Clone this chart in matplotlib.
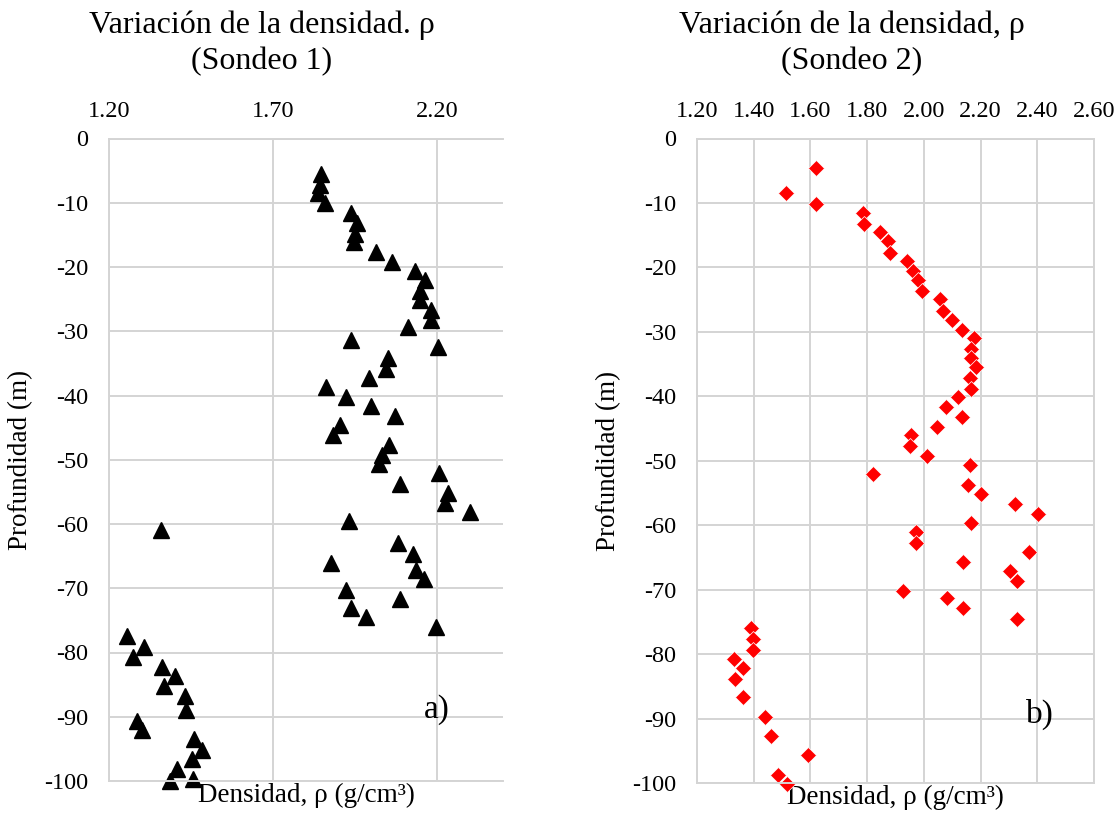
import matplotlib
matplotlib.use('Agg')
import matplotlib.pyplot as plt

plt.rcParams['font.family'] = ['Liberation Serif', 'DejaVu Serif']

# Sondeo 1
rho_1 = [1.847, 1.844, 1.837, 1.859, 1.938, 1.954, 1.948, 1.945, 2.014, 2.062,
         2.133, 2.161, 2.148, 2.148, 2.182, 2.182, 2.111, 1.936, 2.202, 2.050,
         2.045, 1.992, 1.862, 1.923, 1.999, 2.072, 1.903, 1.882, 2.053, 2.030,
         2.022, 2.205, 2.087, 2.232, 2.222, 2.298, 1.930, 1.358, 2.080, 2.126,
         1.877, 2.134, 2.158, 1.921, 2.087, 1.938, 1.984, 2.195, 1.254, 1.307,
         1.274, 1.360, 1.401, 1.367, 1.431, 1.433, 1.284, 1.302, 1.459, 1.482,
         1.452, 1.408, 1.386, 1.455]
depth_1 = [-5.6, -7.2, -8.5, -10.1, -11.6, -13.2, -14.8, -16.1, -17.6, -19.2,
           -20.7, -22.1, -23.8, -25.2, -26.7, -28.2, -29.3, -31.3, -32.5, -34.2,
           -35.9, -37.2, -38.6, -40.2, -41.6, -43.2, -44.6, -46.1, -47.7, -49.2,
           -50.7, -52.1, -53.7, -55.1, -56.7, -58.1, -59.6, -60.9, -63.0, -64.6,
           -66.1, -67.1, -68.6, -70.2, -71.6, -73.1, -74.5, -76.1, -77.5, -79.1,
           -80.7, -82.2, -83.7, -85.2, -86.8, -88.9, -90.6, -92.1, -93.5, -95.1,
           -96.6, -98.2, -100.0, -99.7]

# Sondeo 2
rho_2 = [1.619, 1.515, 1.621, 1.784, 1.788, 1.847, 1.874, 1.882, 1.939, 1.960,
         1.980, 1.995, 2.056, 2.068, 2.100, 2.133, 2.176, 2.165, 2.165, 2.183,
         2.162, 2.166, 2.121, 2.077, 2.133, 2.048, 1.954, 1.950, 2.012, 2.162,
         1.819, 2.154, 2.200, 2.321, 2.403, 2.166, 1.974, 1.974, 2.371, 2.139,
         2.303, 2.327, 1.927, 2.080, 2.139, 2.328, 1.392, 1.398, 1.398, 1.330,
         1.363, 1.333, 1.363, 1.441, 1.462, 1.592, 1.486, 1.516]
depth_2 = [-4.5, -8.5, -10.1, -11.5, -13.2, -14.5, -15.9, -17.7, -19.0, -20.5,
           -22.0, -23.6, -24.9, -26.8, -28.2, -29.7, -31.0, -32.7, -34.1, -35.5,
           -37.1, -38.8, -40.1, -41.6, -43.2, -44.7, -46.0, -47.7, -49.2, -50.7,
           -52.1, -53.7, -55.2, -56.7, -58.2, -59.7, -61.0, -62.7, -64.2, -65.7,
           -67.1, -68.7, -70.2, -71.3, -72.9, -74.6, -76.0, -77.7, -79.4, -80.7,
           -82.2, -83.8, -86.7, -89.7, -92.7, -95.7, -98.7, -100.2]

ticks_1 = [1.20, 1.70, 2.20]
ticks_2 = [1.20, 1.40, 1.60, 1.80, 2.00, 2.20, 2.40, 2.60]
depth_ticks = list(range(0, -101, -10))

grid_c = '#d4d4d4'

fig = plt.figure(figsize=(11.2, 8.17), dpi=100)
ax1 = fig.add_axes([109 / 1120, 1 - 781 / 817, 394 / 1120, 642.5 / 817])
ax2 = fig.add_axes([697 / 1120, 1 - 783 / 817, 397 / 1120, 644.5 / 817])


def style_ax(ax, xt, xmax, right_spine):
    ax.set_xlim(1.2, xmax)
    ax.set_ylim(-100, 0)
    ax.set_xticks(xt)
    ax.set_xticklabels(['%.2f' % v for v in xt])
    ax.set_yticks(depth_ticks)
    ax.set_yticklabels(['%d' % v for v in depth_ticks])
    ax.xaxis.tick_top()
    ax.tick_params(axis='x', length=0, pad=12, labelsize=17.5)
    ax.tick_params(axis='y', length=0, pad=15, labelsize=17.5)
    ax.grid(True, color=grid_c, lw=1.4)
    ax.set_axisbelow(True)
    for s in ['top', 'bottom', 'left', 'right']:
        ax.spines[s].set_color(grid_c)
        ax.spines[s].set_linewidth(1.4)
    ax.spines['right'].set_visible(right_spine)
    ax.set_ylabel('Profundidad (m)', fontsize=19.5, labelpad=8)
    ax.xaxis.set_label_position('bottom')
    ax.set_xlabel('Densidad, ρ (g/cm³)', fontsize=19.5, labelpad=1)


style_ax(ax1, ticks_1, 2.4, False)
style_ax(ax2, ticks_2, 2.6, True)

ax1.plot(rho_1, depth_1, ls='none', marker='^', ms=11.5, color='black', clip_on=False)
ax2.plot(rho_2, depth_2, ls='none', marker='D', ms=8.3, color='red',
         markeredgecolor='white', markeredgewidth=0.5, clip_on=False)

ax1.text(2.198, -88.9, 'a)', fontsize=24, ha='center', va='center')
ax2.text(2.41, -89.3, 'b)', fontsize=24, ha='center', va='center')

fig.text(262 / 1120, 1 - 25 / 817, 'Variación de la densidad. ρ', fontsize=23,
         ha='center', va='center')
fig.text(262 / 1120, 1 - 62 / 817, '(Sondeo 1)', fontsize=23, ha='center', va='center')
fig.text(852 / 1120, 1 - 25 / 817, 'Variación de la densidad, ρ', fontsize=23,
         ha='center', va='center')
fig.text(852 / 1120, 1 - 62 / 817, '(Sondeo 2)', fontsize=23, ha='center', va='center')

fig.savefig('out.png', dpi=100)
